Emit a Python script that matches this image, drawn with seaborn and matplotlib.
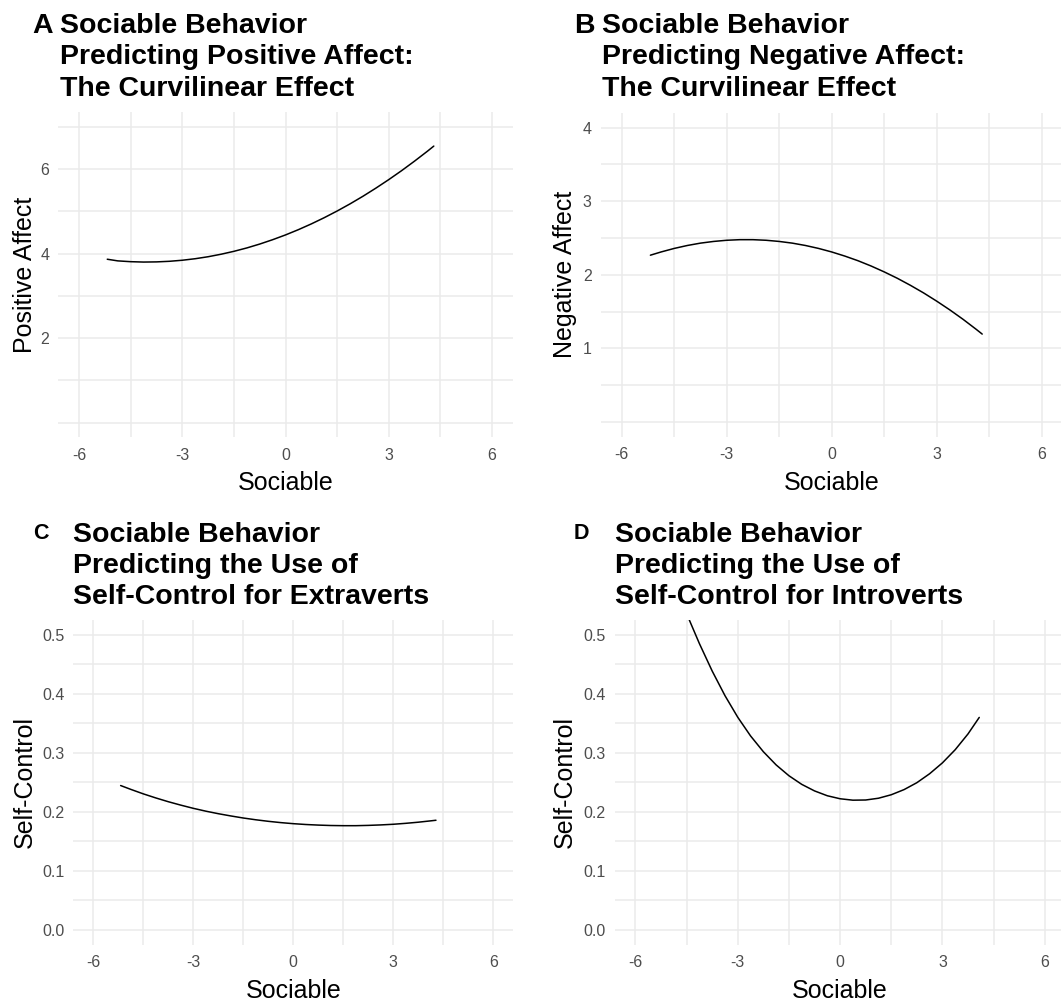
import matplotlib
matplotlib.use("Agg")
import matplotlib.pyplot as plt
import numpy as np
import pandas as pd
import seaborn as sns

# ---- predicted values along the Sociable axis ----
sociable_a = [-5.18, -4.875, -4.5, -4.125, -3.75, -3.375, -3.0, -2.625, -2.25, -1.875, -1.5,
              -1.125, -0.75, -0.375, 0.0, 0.375, 0.75, 1.125, 1.5, 1.875, 2.25, 2.625, 3.0,
              3.375, 3.75, 4.125, 4.31]
positive_affect = [3.865, 3.826, 3.807, 3.798, 3.802, 3.816, 3.841, 3.877, 3.924, 3.983, 4.052,
                   4.132, 4.224, 4.327, 4.440, 4.565, 4.701, 4.848, 5.006, 5.175, 5.355, 5.547,
                   5.749, 5.962, 6.187, 6.422, 6.543]

sociable_b = [-5.18, -4.875, -4.5, -4.125, -3.75, -3.375, -3.0, -2.625, -2.25, -1.875, -1.5,
              -1.125, -0.75, -0.375, 0.0, 0.375, 0.75, 1.125, 1.5, 1.875, 2.25, 2.625, 3.0,
              3.375, 3.75, 4.125, 4.3]
negative_affect = [2.266, 2.310, 2.358, 2.398, 2.430, 2.453, 2.469, 2.477, 2.477, 2.469, 2.453,
                   2.430, 2.398, 2.358, 2.310, 2.254, 2.191, 2.119, 2.039, 1.952, 1.856, 1.753,
                   1.641, 1.522, 1.395, 1.259, 1.193]

sociable_c = [-5.18, -4.875, -4.5, -4.125, -3.75, -3.375, -3.0, -2.625, -2.25, -1.875, -1.5,
              -1.125, -0.75, -0.375, 0.0, 0.375, 0.75, 1.125, 1.5, 1.875, 2.25, 2.625, 3.0,
              3.375, 3.75, 4.125, 4.28]
self_control_extraverts = [0.2446, 0.2381, 0.2305, 0.2236, 0.2172, 0.2114, 0.2060, 0.2012,
                           0.1969, 0.1931, 0.1896, 0.1866, 0.1840, 0.1818, 0.1800, 0.1786,
                           0.1776, 0.1769, 0.1766, 0.1766, 0.1771, 0.1779, 0.1790, 0.1806,
                           0.1825, 0.1848, 0.1858]

sociable_d = [-4.5, -4.125, -3.75, -3.375, -3.0, -2.625, -2.25, -1.875, -1.5, -1.125, -0.75,
              -0.375, 0.0, 0.375, 0.75, 1.125, 1.5, 1.875, 2.25, 2.625, 3.0, 3.375, 3.75, 4.08]
self_control_introverts = [0.5357, 0.4850, 0.4385, 0.3968, 0.3602, 0.3286, 0.3019, 0.2795,
                           0.2612, 0.2466, 0.2355, 0.2273, 0.2222, 0.2198, 0.2201, 0.2231,
                           0.2290, 0.2377, 0.2494, 0.2646, 0.2830, 0.3053, 0.3320, 0.3600]

x_ticks = [-6, -3, 0, 3, 6]
x_tick_labels = ["-6", "-3", "0", "3", "6"]

panel_tags = ["A", "B", "C", "D"]
panel_titles = [
    "Sociable Behavior\nPredicting Positive Affect:\nThe Curvilinear Effect",
    "Sociable Behavior\nPredicting Negative Affect:\nThe Curvilinear Effect",
    "Sociable Behavior\nPredicting the Use of\nSelf-Control for Extraverts",
    "Sociable Behavior\nPredicting the Use of\nSelf-Control for Introverts",
]
y_titles = ["Positive Affect", "Negative Affect", "Self-Control", "Self-Control"]

sns.set_theme(style="whitegrid")
plt.rcParams["font.family"] = ["Liberation Sans", "DejaVu Sans"]
plt.rcParams["axes.unicode_minus"] = False

W, H = 1061, 1001
fig = plt.figure(figsize=(W / 100, H / 100), dpi=100)
fig.patch.set_facecolor("white")


def fx(px):
    return px / W


def fy(py):
    return 1 - py / H


def add_panel(left, right, top, bottom):
    return fig.add_axes([fx(left), fy(bottom), (right - left) / W, (bottom - top) / H])


panels = [
    dict(box=(58.4, 512.6, 112, 437.3), x=sociable_a, y=positive_affect,
         ylim=(-0.35, 7.35), yticks=[2, 4, 6], ylabels=["2", "4", "6"],
         ygrid=np.arange(0, 7.01, 1.0), tag_size=20.5, tag_x=32.3, tag_top=12.7,
         title_x=59.7, title_top=12.7, ylab_x=31.7),
    dict(box=(600.7, 1062.7, 113, 436.5), x=sociable_b, y=negative_affect,
         ylim=(-0.2, 4.2), yticks=[1, 2, 3, 4], ylabels=["1", "2", "3", "4"],
         ygrid=np.arange(0, 4.01, 0.5), tag_size=20.5, tag_x=574.3, tag_top=12.7,
         title_x=601.7, title_top=12.7, ylab_x=572.0),
    dict(box=(73.3, 513.3, 620, 944.7), x=sociable_c, y=self_control_extraverts,
         ylim=(-0.025, 0.525), yticks=[0, 0.1, 0.2, 0.3, 0.4, 0.5],
         ylabels=["0.0", "0.1", "0.2", "0.3", "0.4", "0.5"],
         ygrid=np.arange(0, 0.501, 0.05), tag_size=15.5, tag_x=32.7, tag_top=522.7,
         title_x=72.7, title_top=521.7, ylab_x=31.7),
    dict(box=(615.0, 1065.2, 620, 944.7), x=sociable_d, y=self_control_introverts,
         ylim=(-0.025, 0.525), yticks=[0, 0.1, 0.2, 0.3, 0.4, 0.5],
         ylabels=["0.0", "0.1", "0.2", "0.3", "0.4", "0.5"],
         ygrid=np.arange(0, 0.501, 0.05), tag_size=15.5, tag_x=573.3, tag_top=522.7,
         title_x=615.0, title_top=521.7, ylab_x=572.0),
]

grid_color = "#EBEBEB"
tick_color = "#4D4D4D"

for i, p in enumerate(panels):
    left, right, top, bottom = p["box"]
    ax = add_panel(left, right, top, bottom)
    ax.set_facecolor("white")

    df = pd.DataFrame({"Sociable": p["x"], "value": p["y"]})
    sns.lineplot(data=df, x="Sociable", y="value", ax=ax, color="black",
                 linewidth=1.1, sort=True, estimator=None)

    ax.set_xlim(-6.6, 6.6)
    ax.set_ylim(*p["ylim"])
    ax.set_xticks(x_ticks)
    ax.set_xticklabels(x_tick_labels)
    ax.set_xticks(np.arange(-6, 6.01, 1.5), minor=True)
    ax.set_yticks(p["yticks"])
    ax.set_yticklabels(p["ylabels"])
    ax.set_yticks(p["ygrid"], minor=True)

    ax.grid(False)
    ax.grid(which="both", axis="both", color=grid_color, linewidth=1.1)
    ax.set_axisbelow(True)
    for s in ax.spines.values():
        s.set_visible(False)
    ax.tick_params(which="both", length=0)
    ax.tick_params(axis="x", which="major", pad=7.5, labelsize=11.5, labelcolor=tick_color)
    ax.tick_params(axis="y", which="major", pad=6.5, labelsize=11.5, labelcolor=tick_color)
    ax.set_xlabel("")
    ax.set_ylabel("")

    # axis titles
    fig.text(fx((left + right) / 2), fy(bottom + 53), "Sociable", ha="center",
             va="baseline", fontsize=18, color="black")
    fig.text(fx(p["ylab_x"]), fy((top + bottom) / 2), y_titles[i], rotation=90,
             rotation_mode="anchor", ha="center", va="baseline", fontsize=18, color="black")

    # panel tag and title
    fig.text(fx(p["tag_x"]), fy(p["tag_top"]), panel_tags[i], ha="left", va="top",
             fontsize=p["tag_size"], fontweight="bold", color="black")
    fig.text(fx(p["title_x"]), fy(p["title_top"]), panel_titles[i], ha="left", va="top",
             fontsize=20.5, fontweight="bold", color="black", linespacing=1.27)

fig.savefig("out.png", dpi=100, facecolor="white")
